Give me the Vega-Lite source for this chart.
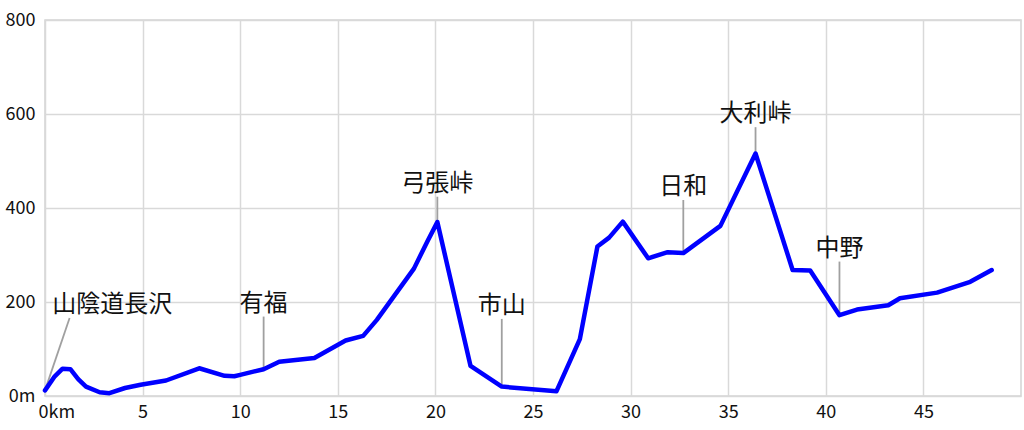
{
  "$schema": "https://vega.github.io/schema/vega-lite/v6.json",
  "autosize": {"type": "none"},
  "width": 976,
  "height": 376,
  "padding": {"left": 45, "top": 20, "right": 3, "bottom": 34},
  "background": "white",
  "config": {
    "font": "Noto Sans CJK JP",
    "view": {"stroke": "#d4d4d4", "strokeWidth": 1.5},
    "axis": {
      "grid": true,
      "gridColor": "#d9d9d9",
      "gridWidth": 1.5,
      "domain": false,
      "ticks": false,
      "title": null,
      "labelFont": "Noto Sans CJK JP",
      "labelFontSize": 18,
      "labelColor": "#111111"
    }
  },
  "datasets": {
    "profile": [
      {"km": 0.0, "elev": 12},
      {"km": 0.5, "elev": 42},
      {"km": 0.9, "elev": 58},
      {"km": 1.3, "elev": 57},
      {"km": 1.7, "elev": 36},
      {"km": 2.1, "elev": 20},
      {"km": 2.8, "elev": 8},
      {"km": 3.3, "elev": 6},
      {"km": 4.1, "elev": 17},
      {"km": 4.9, "elev": 24},
      {"km": 6.2, "elev": 33},
      {"km": 7.9, "elev": 59},
      {"km": 9.2, "elev": 43},
      {"km": 9.7, "elev": 42},
      {"km": 10.0, "elev": 45},
      {"km": 11.2, "elev": 57},
      {"km": 12.0, "elev": 73},
      {"km": 13.8, "elev": 81},
      {"km": 15.4, "elev": 118},
      {"km": 16.3, "elev": 128},
      {"km": 17.0, "elev": 162},
      {"km": 18.9, "elev": 271},
      {"km": 19.6, "elev": 330},
      {"km": 20.1, "elev": 370},
      {"km": 21.8, "elev": 64},
      {"km": 23.4, "elev": 20},
      {"km": 26.2, "elev": 10},
      {"km": 27.4, "elev": 121},
      {"km": 28.3, "elev": 318},
      {"km": 28.9, "elev": 337},
      {"km": 29.6, "elev": 371},
      {"km": 30.9, "elev": 293},
      {"km": 31.9, "elev": 306},
      {"km": 32.7, "elev": 304},
      {"km": 34.6, "elev": 362},
      {"km": 36.4, "elev": 516},
      {"km": 38.3, "elev": 268},
      {"km": 39.2, "elev": 267},
      {"km": 40.7, "elev": 172},
      {"km": 41.6, "elev": 184},
      {"km": 43.2, "elev": 193},
      {"km": 43.8, "elev": 208},
      {"km": 45.7, "elev": 220},
      {"km": 47.4, "elev": 243},
      {"km": 48.5, "elev": 268}
    ],
    "places": [
      {"name": "山陰道長沢", "km": 0.0, "elev": 12, "top_km": 1.26, "top_elev": 166, "label_km": 3.45},
      {"name": "有福", "km": 11.2, "elev": 57, "top_km": 11.2, "top_elev": 169, "label_km": 11.2},
      {"name": "弓張峠", "km": 20.1, "elev": 370, "top_km": 20.1, "top_elev": 424, "label_km": 20.1},
      {"name": "市山", "km": 23.4, "elev": 20, "top_km": 23.4, "top_elev": 164, "label_km": 23.4},
      {"name": "日和", "km": 32.7, "elev": 304, "top_km": 32.7, "top_elev": 417, "label_km": 32.7},
      {"name": "大利峠", "km": 36.4, "elev": 516, "top_km": 36.4, "top_elev": 572, "label_km": 36.4},
      {"name": "中野", "km": 40.7, "elev": 172, "top_km": 40.7, "top_elev": 286, "label_km": 40.7}
    ]
  },
  "layer": [
    {
      "data": {"name": "places"},
      "mark": {"type": "rule", "color": "#a0a0a0", "strokeWidth": 1.8},
      "encoding": {
        "x": {
          "field": "km", "type": "quantitative",
          "scale": {"domain": [0, 50], "nice": false, "zero": true},
          "axis": {
            "values": [0, 5, 10, 15, 20, 25, 30, 35, 40, 45],
            "labelExpr": "datum.value == 0 ? '0km' : datum.label",
            "labelPadding": 7,
            "labelFlush": true,
            "labelFlushOffset": 7
          }
        },
        "y": {
          "field": "elev", "type": "quantitative",
          "scale": {"domain": [0, 800], "nice": false},
          "axis": {
            "values": [0, 200, 400, 600, 800],
            "labelExpr": "datum.value == 0 ? '0m' : datum.label",
            "labelPadding": 10
          }
        },
        "x2": {"field": "top_km"},
        "y2": {"field": "top_elev"}
      }
    },
    {
      "data": {"name": "profile"},
      "mark": {"type": "line", "color": "#0000ff", "strokeWidth": 4.5, "strokeJoin": "round", "strokeCap": "round"},
      "encoding": {
        "x": {"field": "km", "type": "quantitative"},
        "y": {"field": "elev", "type": "quantitative"}
      }
    },
    {
      "data": {"name": "places"},
      "mark": {"type": "text", "fontSize": 24, "color": "#111111", "baseline": "middle", "align": "center", "dy": -13},
      "encoding": {
        "x": {"field": "label_km", "type": "quantitative"},
        "y": {"field": "top_elev", "type": "quantitative"},
        "text": {"field": "name"}
      }
    }
  ]
}
